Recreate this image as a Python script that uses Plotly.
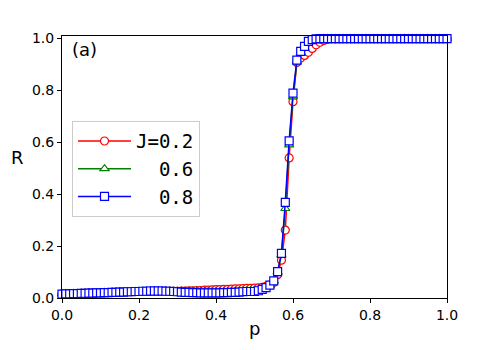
import plotly.graph_objects as go

# p grid (step 0.01)
p_values = [
    0.00, 0.01, 0.02, 0.03, 0.04, 0.05, 0.06, 0.07, 0.08, 0.09,
    0.10, 0.11, 0.12, 0.13, 0.14, 0.15, 0.16, 0.17, 0.18, 0.19,
    0.20, 0.21, 0.22, 0.23, 0.24, 0.25, 0.26, 0.27, 0.28, 0.29,
    0.30, 0.31, 0.32, 0.33, 0.34, 0.35, 0.36, 0.37, 0.38, 0.39,
    0.40, 0.41, 0.42, 0.43, 0.44, 0.45, 0.46, 0.47, 0.48, 0.49,
    0.50, 0.51, 0.52, 0.53, 0.54, 0.55, 0.56, 0.57, 0.58, 0.59,
    0.60, 0.61, 0.62, 0.63, 0.64, 0.65, 0.66, 0.67, 0.68, 0.69,
    0.70, 0.71, 0.72, 0.73, 0.74, 0.75, 0.76, 0.77, 0.78, 0.79,
    0.80, 0.81, 0.82, 0.83, 0.84, 0.85, 0.86, 0.87, 0.88, 0.89,
    0.90, 0.91, 0.92, 0.93, 0.94, 0.95, 0.96, 0.97, 0.98, 0.99,
    1.00,
]

# R for J=0.2
r_j02 = [
    0.015, 0.016, 0.016, 0.017, 0.017, 0.018, 0.018, 0.019, 0.019, 0.020,
    0.020, 0.021, 0.021, 0.022, 0.022, 0.023, 0.023, 0.024, 0.024, 0.025,
    0.025, 0.025, 0.026, 0.026, 0.026, 0.026, 0.026, 0.026, 0.026, 0.026,
    0.026, 0.027, 0.027, 0.028, 0.028, 0.029, 0.029, 0.030, 0.030, 0.031,
    0.032, 0.032, 0.033, 0.033, 0.034, 0.035, 0.035, 0.036, 0.037, 0.037,
    0.038, 0.039, 0.041, 0.045, 0.050, 0.060, 0.090, 0.146, 0.262, 0.540,
    0.757, 0.908, 0.925, 0.935, 0.947, 0.962, 0.976, 0.986, 0.993, 0.997,
    1.000, 1.000, 1.000, 1.000, 1.000, 1.000, 1.000, 1.000, 1.000, 1.000,
    1.000, 1.000, 1.000, 1.000, 1.000, 1.000, 1.000, 1.000, 1.000, 1.000,
    1.000, 1.000, 1.000, 1.000, 1.000, 1.000, 1.000, 1.000, 1.000, 1.000,
    1.000,
]

# R for J=0.6
r_j06 = [
    0.015, 0.016, 0.016, 0.017, 0.017, 0.018, 0.018, 0.019, 0.019, 0.020,
    0.020, 0.021, 0.021, 0.022, 0.022, 0.023, 0.023, 0.024, 0.024, 0.025,
    0.025, 0.026, 0.026, 0.027, 0.027, 0.027, 0.027, 0.027, 0.027, 0.026,
    0.026, 0.026, 0.026, 0.026, 0.026, 0.026, 0.025, 0.025, 0.025, 0.025,
    0.025, 0.025, 0.025, 0.025, 0.025, 0.026, 0.026, 0.027, 0.028, 0.029,
    0.030, 0.032, 0.036, 0.041, 0.048, 0.065, 0.100, 0.165, 0.345, 0.590,
    0.775, 0.910, 0.945, 0.965, 0.983, 0.993, 0.998, 1.000, 1.000, 1.000,
    1.000, 1.000, 1.000, 1.000, 1.000, 1.000, 1.000, 1.000, 1.000, 1.000,
    1.000, 1.000, 1.000, 1.000, 1.000, 1.000, 1.000, 1.000, 1.000, 1.000,
    1.000, 1.000, 1.000, 1.000, 1.000, 1.000, 1.000, 1.000, 1.000, 1.000,
    1.000,
]

# R for J=0.8
r_j08 = [
    0.015, 0.016, 0.016, 0.017, 0.017, 0.018, 0.018, 0.019, 0.019, 0.020,
    0.020, 0.021, 0.021, 0.022, 0.022, 0.023, 0.023, 0.024, 0.024, 0.025,
    0.025, 0.026, 0.026, 0.027, 0.027, 0.027, 0.027, 0.026, 0.026, 0.025,
    0.024, 0.023, 0.022, 0.022, 0.021, 0.021, 0.020, 0.020, 0.020, 0.020,
    0.020, 0.020, 0.021, 0.021, 0.022, 0.022, 0.023, 0.024, 0.025, 0.025,
    0.025, 0.028, 0.033, 0.040, 0.050, 0.066, 0.102, 0.172, 0.369, 0.606,
    0.790, 0.917, 0.951, 0.970, 0.989, 0.996, 0.999, 1.000, 1.000, 1.000,
    1.000, 1.000, 1.000, 1.000, 1.000, 1.000, 1.000, 1.000, 1.000, 1.000,
    1.000, 1.000, 1.000, 1.000, 1.000, 1.000, 1.000, 1.000, 1.000, 1.000,
    1.000, 1.000, 1.000, 1.000, 1.000, 1.000, 1.000, 1.000, 1.000, 1.000,
    1.000,
]

series_labels = ["J=0.2", "\u00a0\u00a00.6", "\u00a0\u00a00.8"]
tick_vals = [0.0, 0.2, 0.4, 0.6, 0.8, 1.0]
tick_text = ["0.0", "0.2", "0.4", "0.6", "0.8", "1.0"]

styles = [
    ("#ff0000", "circle"),
    ("#008000", "triangle-up"),
    ("#0000ff", "square"),
]

fig = go.Figure()

for ys, label, (color, symbol) in zip([r_j02, r_j06, r_j08], series_labels, styles):
    fig.add_trace(go.Scatter(
        x=p_values, y=ys,
        mode='lines+markers',
        name=label,
        line=dict(color=color, width=1.5),
        marker=dict(
            symbol=symbol,
            size=8,
            color='white',
            line=dict(color=color, width=1.2)
        ),
        cliponaxis=False
    ))

axis_common = dict(
    showline=True, linecolor='black', linewidth=1, mirror=True,
    showgrid=False, zeroline=False,
    ticks='outside', ticklen=4, tickwidth=1, tickcolor='black',
    tickvals=tick_vals, ticktext=tick_text,
    tickfont=dict(family='DejaVu Sans', size=14, color='black'),
)

# page body has an 8px margin, so the figure is a bit smaller than the window
fig.update_layout(
    width=483, height=342,
    margin=dict(l=54, r=44, t=28, b=52),
    paper_bgcolor='white',
    plot_bgcolor='white',
    xaxis=dict(range=[0, 1], **axis_common),
    yaxis=dict(range=[0, 1.01], **axis_common),
    showlegend=True,
    legend=dict(
        x=0.026, y=0.675, xanchor='left', yanchor='top',
        bgcolor='white', bordercolor='#cccccc', borderwidth=1,
        font=dict(family='DejaVu Sans Mono', size=19, color='black'),
        itemwidth=53,
        tracegroupgap=0,
    ),
    annotations=[
        dict(text='(a)', x=0.021, y=0.95, xref='paper', yref='paper',
             xanchor='left', yanchor='middle', showarrow=False,
             font=dict(family='DejaVu Sans', size=18, color='black')),
        dict(text='R', x=(17.5 - 62) / 385, y=(298 - 157) / 262,
             xref='paper', yref='paper', xanchor='center', yanchor='middle',
             showarrow=False,
             font=dict(family='DejaVu Sans', size=18, color='black')),
        dict(text='p', x=0.5, y=-0.115, xref='paper', yref='paper',
             xanchor='center', yanchor='middle', showarrow=False,
             font=dict(family='DejaVu Sans', size=18, color='black')),
    ],
)

fig.write_html("out.html")
